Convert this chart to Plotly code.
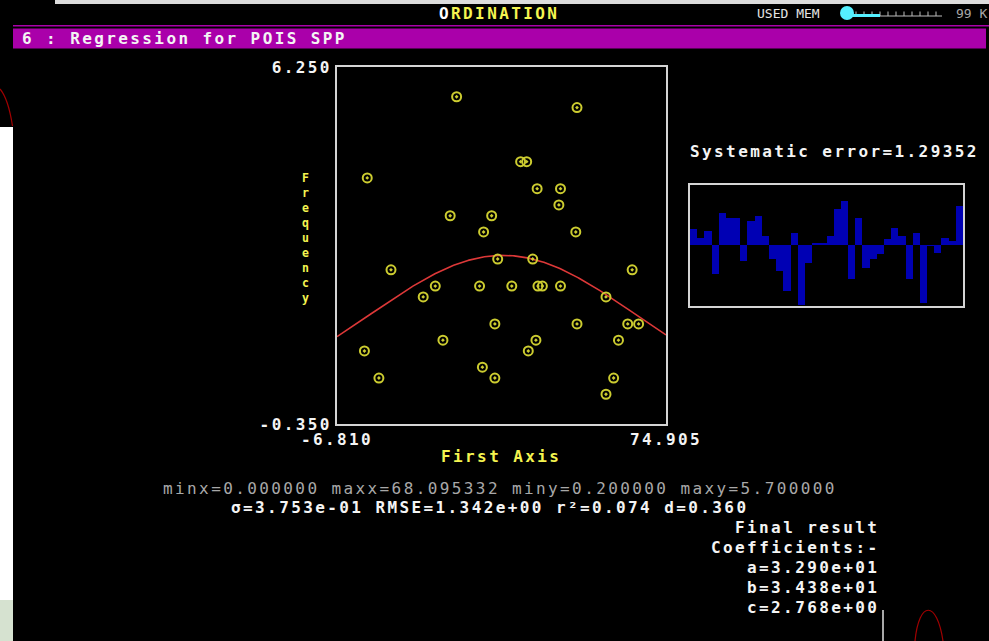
import numpy as np
import plotly.graph_objects as go

W, H = 989, 641

# Sample scores on the first ordination axis and species frequency
axis_scores = [22.9, 52.8, 38.8, 40.3, 0.7, 42.9, 48.7, 48.3, 21.3, 31.6,
               29.6, 52.5, 33.1, 41.8, 6.6, 66.5, 17.6, 28.6, 36.6, 43.1,
               44.2, 48.7, 14.6, 60.0, 32.4, 52.8, 65.4, 68.1, 19.5, 42.6,
               63.1, 0.0, 40.7, 29.3, 3.6, 32.4, 61.9, 60.0]
frequency = [5.7, 5.5, 4.5, 4.5, 4.2, 4.0, 4.0, 3.7, 3.5, 3.5,
             3.2, 3.2, 2.7, 2.7, 2.5, 2.5, 2.2, 2.2, 2.2, 2.2,
             2.2, 2.2, 2.0, 2.0, 1.5, 1.5, 1.5, 1.5, 1.2, 1.2,
             1.2, 1.0, 1.0, 0.7, 0.5, 0.5, 0.5, 0.2]

# Gaussian response coefficients: tolerance a, optimum b, maximum c
coef_a = 32.90
coef_b = 34.38
coef_c = 2.768

# Residual per sample, shown in the error panel
residuals = [0.78, 0.37, 0.70, -1.45, 1.62, 1.37, 1.37, -0.80, 1.20, 1.45,
             0.45, -0.72, -1.30, -2.30, 0.62, -3.00, -0.88, 0.12, 0.12, 0.45,
             1.78, 2.20, -1.72, 1.37, -1.13, -0.72, -0.47, 0.28, 0.87, 0.45,
             -1.72, 0.62, -2.88, -0.03, -0.38, 0.37, 0.20, 1.95]

x_ticks = [-6.810, 74.905]
y_ticks = [-0.350, 6.250]

stats_line = "minx=0.000000 maxx=68.095332 miny=0.200000 maxy=5.700000"
fit_line = "σ=3.753e-01 RMSE=1.342e+00 r²=0.074 d=0.360"
coef_lines = ["Final result", "Coefficients:-",
              "a=3.290e+01", "b=3.438e+01", "c=2.768e+00"]
sys_error = "Systematic error=1.29352"

FONT = "DejaVu Sans Mono"
YELLOW = "#f4f450"
WHITE = "#f4f4f4"
GRAY = "#a8a8a8"
FRAME = "#d4d4d4"
MAGENTA = "#aa00aa"
SIZE = 16
SPACING = 2.4


def px(x):
    return x / W


def py(y):
    return 1 - y / H


def sp(text, spacing=SPACING):
    return f'<span style="letter-spacing:{spacing}px">{text}</span>'


annotations = []


def label(text, x, y, color=WHITE, anchor="left", size=SIZE, bold=True,
          spacing=SPACING):
    annotations.append(dict(
        text=sp(text, spacing), x=px(x), y=py(y), xref="paper", yref="paper",
        xanchor=anchor, yanchor="middle", showarrow=False,
        font=dict(family=FONT, size=size, color=color,
                  weight="bold" if bold else "normal"),
    ))


# fitted Gaussian curve
xs = np.linspace(x_ticks[0], x_ticks[1], 300)
ys = coef_c * np.exp(-0.5 * ((xs - coef_b) / coef_a) ** 2)

fig = go.Figure()
fig.add_trace(go.Scatter(
    x=xs, y=ys, mode="lines", line=dict(color="#dd3838", width=1.6),
    hoverinfo="skip", showlegend=False))
fig.add_trace(go.Scatter(
    x=axis_scores, y=frequency, mode="markers", showlegend=False,
    marker=dict(symbol="circle-open-dot", size=9, color="#cccc30",
                line=dict(width=2, color="#cccc30"))))
fig.add_trace(go.Bar(
    x=list(range(1, len(residuals) + 1)), y=residuals, xaxis="x2", yaxis="y2",
    marker=dict(color="#0000b4", line=dict(width=0)), showlegend=False))

# title bar and window text
label("<span style='color:#ffffff'>O</span>RDINATION", 499, 14, YELLOW, "center")
label("USED MEM", 755, 14, "#e4e4e4", "left", 13, False, 0)
label("99 K", 954, 14, GRAY, "left", 13, False, 0)
label("6 : Regression for POIS SPP", 20, 38, WHITE, "left")

label(sys_error, 688, 151, WHITE, "left")
label("First Axis", 501, 456, YELLOW, "center")
label("<br>".join("Frequency"), 305, 238, YELLOW, "center", 11.5, True, 0)

label(stats_line, 500, 488, GRAY, "center", SIZE, False)
label(fit_line, 489, 507, WHITE, "center")
for i, t in enumerate(coef_lines):
    label(t, 881, 527 + i * 20, WHITE, "right")

shapes = []


def rect(x0, y0, x1, y1, color):
    shapes.append(dict(type="rect", xref="paper", yref="paper",
                       x0=px(x0), x1=px(x1), y0=py(y1), y1=py(y0),
                       fillcolor=color, line=dict(width=0)))


def curve(pts, color, width=1.2):
    d = f"M {px(pts[0][0])},{py(pts[0][1])} C "
    d += " ".join(f"{px(a)},{py(b)}" for a, b in pts[1:])
    shapes.append(dict(type="path", xref="paper", yref="paper", path=d,
                       line=dict(color=color, width=width)))


# window chrome
rect(55, 0, 989, 4, "#dcdcdc")
rect(13, 25, 989, 26.5, MAGENTA)
rect(13, 28.5, 986, 48.5, MAGENTA)
rect(0, 127, 13, 641, "#ffffff")
rect(0, 600, 13, 641, "#d6e2d0")
curve([(0, 89), (6, 96), (10, 110), (12.5, 126)], "#a00000")
curve([(915, 641), (919, 600), (937, 600), (943, 641)], "#a00000")
shapes.append(dict(type="line", xref="paper", yref="paper",
                   x0=px(883), x1=px(883), y0=py(610), y1=py(641),
                   line=dict(color="#e0e0e0", width=1.5)))

# memory gauge
shapes.append(dict(type="line", xref="paper", yref="paper",
                   x0=px(846), x1=px(942), y0=py(16), y1=py(16),
                   line=dict(color="#bdbdbd", width=1.2)))
for t in range(856, 943, 8):
    shapes.append(dict(type="line", xref="paper", yref="paper",
                       x0=px(t), x1=px(t), y0=py(16), y1=py(11.5),
                       line=dict(color="#bdbdbd", width=1)))
rect(846, 14, 880, 17, "#55f0ff")
shapes.append(dict(type="circle", xref="paper", yref="paper",
                   x0=px(840), x1=px(854), y0=py(20), y1=py(6),
                   fillcolor="#55f0ff", line=dict(width=0)))

axis_common = dict(showgrid=False, zeroline=False, showline=True, mirror=True,
                   linecolor=FRAME, linewidth=2, ticks="", automargin=False)
tick_font = dict(family=FONT, size=SIZE, color=WHITE, weight="bold")

fig.update_layout(
    template="none",
    width=W, height=H, autosize=False,
    margin=dict(l=0, r=0, t=0, b=0, pad=0),
    paper_bgcolor="#000000", plot_bgcolor="#000000",
    bargap=0, showlegend=False,
    xaxis=dict(domain=[px(337), px(666)], range=x_ticks,
               tickvals=x_ticks, ticktext=[sp(f"{v:.3f}") for v in x_ticks],
               tickfont=tick_font, **axis_common),
    yaxis=dict(domain=[py(424), py(67)], range=y_ticks,
               tickvals=y_ticks, ticktext=[sp(f"{v:.3f}") for v in y_ticks],
               tickfont=tick_font, **axis_common),
    xaxis2=dict(domain=[px(690), px(963)], range=[0.5, len(residuals) + 0.5],
                anchor="y2", showticklabels=False, **axis_common),
    yaxis2=dict(domain=[py(306), py(185)], range=[-3.05, 3.0],
                anchor="x2", showticklabels=False, **axis_common),
    annotations=annotations,
    shapes=shapes,
)

fig.write_html("out.html")
